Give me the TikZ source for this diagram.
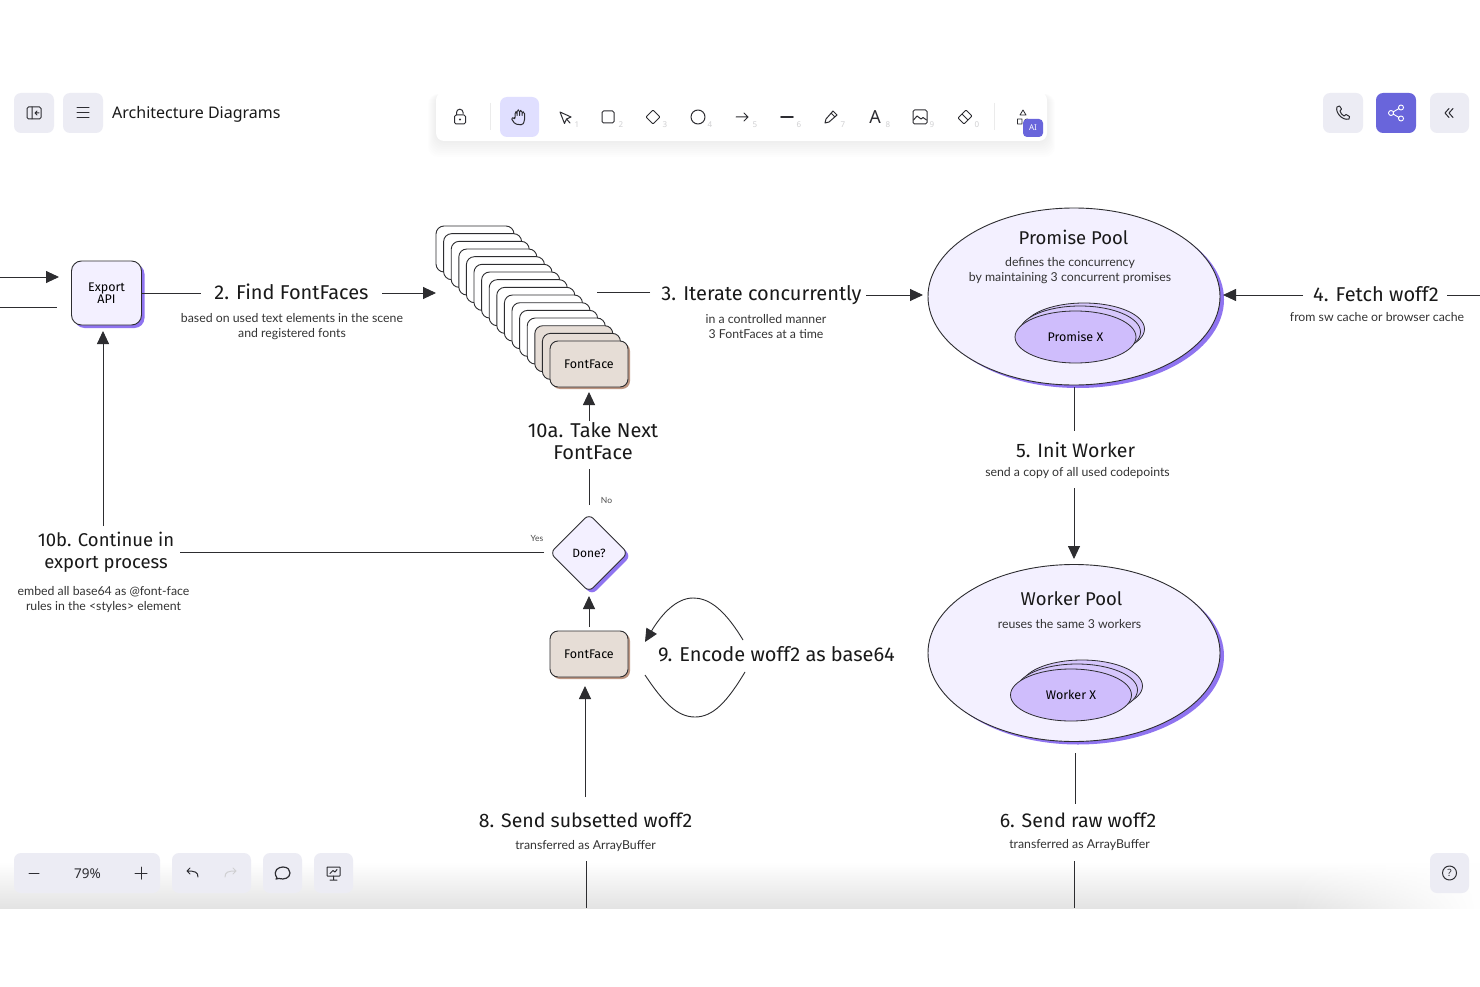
\documentclass[tikz,border=0pt]{standalone}
\usepackage{fontspec}
\setmainfont{Lato}
\newfontfamily\handfont{Fira Sans}
\newfontfamily\uifont{Noto Sans}
\usetikzlibrary{arrows.meta,shapes.geometric,shadows,fadings,positioning}
\definecolor{poolfill}{RGB}{243,240,255}
\definecolor{poolshadow}{RGB}{143,116,240}
\definecolor{innerfill}{RGB}{207,189,252}
\definecolor{facefill}{RGB}{230,221,214}
\definecolor{faceshadow}{RGB}{190,150,130}
\definecolor{inkline}{RGB}{45,45,48}
\definecolor{uibutton}{RGB}{236,236,244}
\definecolor{uiactive}{RGB}{224,223,255}
\definecolor{uiviolet}{RGB}{105,101,219}
\definecolor{uigrey}{RGB}{208,208,210}
\definecolor{uiink}{RGB}{45,45,50}

\begin{document}
\begin{tikzpicture}[x=1pt, y=-1pt,
                      handlabel/.style = {
                        font=\handfont\fontsize{20}{22}\selectfont,
                        align=center, text=black!90, inner sep=0pt
                      },
                      handstep/.style = {
                        handlabel,
                        font=\handfont\fontsize{19.5}{22}\selectfont
                      },
                      handtitle/.style = {
                        handlabel,
                        font=\handfont\fontsize{18.5}{22.5}\selectfont
                      },
                      subnote/.style = {
                        font=\fontsize{12.3}{15.4}\selectfont,
                        align=center, text=black!80, inner sep=0pt
                      },
                      tinynote/.style = {
                        font=\fontsize{8.5}{10}\selectfont,
                        text=black!70, inner sep=0pt
                      },
                      exportbox/.style = {
                        draw=inkline, fill=poolfill, line width=0.9pt,
                        rounded corners=10pt, minimum width=70pt,
                        minimum height=64pt, align=center, inner sep=0pt,
                        font=\handfont\fontsize{12.5}{13}\selectfont,
                        drop shadow={shadow xshift=3pt, shadow yshift=-3pt,
                          opacity=1, fill=poolshadow}
                      },
                      stackcard/.style = {
                        draw=inkline, fill=white, line width=0.9pt,
                        rounded corners=8pt, minimum width=78pt,
                        minimum height=46pt, inner sep=0pt
                      },
                      facecard/.style = {
                        stackcard, fill=facefill,
                        font=\handfont\fontsize{12.5}{14}\selectfont
                      },
                      poolshape/.style = {
                        ellipse, draw=inkline, fill=poolfill, line width=0.9pt,
                        minimum width=292pt, minimum height=177pt, inner sep=0pt,
                        drop shadow={shadow xshift=4pt, shadow yshift=-3pt,
                          opacity=1, fill=poolshadow}
                      },
                      innershape/.style = {
                        ellipse, draw=inkline, fill=innerfill, line width=0.8pt,
                        minimum width=121pt, minimum height=52pt, inner sep=0pt,
                        font=\handfont\fontsize{12.5}{14}\selectfont
                      },
                      doneshape/.style = {
                        diamond, aspect=1, draw=inkline, fill=poolfill,
                        line width=0.9pt, rounded corners=6pt,
                        minimum size=78pt, inner sep=0pt,
                        font=\handfont\fontsize{12}{13}\selectfont,
                        drop shadow={shadow xshift=3pt, shadow yshift=-3pt,
                          opacity=1, fill=poolshadow}
                      },
                      flowline/.style = {
                        draw=inkline, line width=0.9pt
                      },
                      flowarrow/.style = {
                        flowline, -{Triangle[length=13pt, width=12pt]}
                      },
                      uibox/.style = {
                        fill=uibutton, rounded corners=7pt, inner sep=0pt
                      },
                      uiicon/.style = {
                        draw=uiink, line width=1pt, line cap=round,
                        line join=round
                      },
                      uinumber/.style = {
                        font=\uifont\fontsize{8}{9}\selectfont,
                        text=uigrey, inner sep=0pt
                      }]
    \useasboundingbox (0,0) rectangle (1480,987);
    \fill[white] (0,0) rectangle (1480,987);

    % bottom shade of the app window
    \shade[top color=white, bottom color=black!11] (0,862) rectangle (1480,908);
    \fill[white, path fading=west] (1290,855) rectangle (1480,909);

    % diagram: shapes
    \node[exportbox] (export) at (106.5,293) {Export\\[-1pt]API};

    \foreach \i in {0,...,12} {
      \node[stackcard] (card\i) at ({475+7.6*\i},{249+7.67*\i}) {};
    }
    \foreach \i in {13,14} {
      \node[facecard] (card\i) at ({475+7.6*\i},{249+7.67*\i}) {};
    }
    \node[facecard, drop shadow={shadow xshift=2pt, shadow yshift=-2pt,
        opacity=1, fill=faceshadow}] (faceTop) at (589,364) {FontFace};

    \node[poolshape] (promisePool) at (1074,296.5) {};
    \node[innershape, fill=innerfill!85!white] (promiseBackB) at (1084,329) {};
    \node[innershape, fill=innerfill!85!white] (promiseBackA) at (1080,332) {};
    \node[innershape] (promiseX) at (1075.5,337) {Promise X};

    \node[poolshape] (workerPool) at (1074,653) {};
    \node[innershape, fill=innerfill!85!white] (workerBackB) at (1082,686) {};
    \node[innershape, fill=innerfill!85!white] (workerBackA) at (1077,690) {};
    \node[innershape] (workerX) at (1071,695) {Worker X};

    \node[doneshape] (done) at (589,553) {Done?};
    \node[facecard, drop shadow={shadow xshift=2pt, shadow yshift=-2pt,
        opacity=1, fill=faceshadow}] (faceBottom) at (589,654) {FontFace};

    % diagram: texts
    \node[handlabel] (find) at (291.5,292) {2. Find FontFaces};
    \node[subnote] (findNote) at (292,326.5) {based on used text elements in the scene\\and registered fonts};
    \node[handlabel] (iterate) at (761.5,295) {3. Iterate concurrently};
    \node[subnote] (iterateNote) at (766,326.5) {in a controlled manner\\3 FontFaces at a time};
    \node[handlabel] (fetch) at (1376,294) {4. Fetch woff2};
    \node[subnote] (fetchNote) at (1377,317) {from sw cache or browser cache};
    \node[handtitle] (promiseTitle) at (1073.5,237) {Promise Pool};
    \node[subnote] (promiseNote) at (1070,270.5) {defines the concurrency\\by maintaining 3 concurrent promises};
    \node[handstep] (init) at (1075.5,450) {5. Init Worker};
    \node[subnote] (initNote) at (1077.5,473.5) {send a copy of all used codepoints};
    \node[handtitle] (workerTitle) at (1071.5,599) {Worker Pool};
    \node[subnote] (workerNote) at (1069.5,624.5) {reuses the same 3 workers};
    \node[handstep] (rawSend) at (1078,820) {6. Send raw woff2};
    \node[subnote] (rawNote) at (1079.5,845) {transferred as ArrayBuffer};
    \node[handstep] (subSend) at (585.5,820) {8. Send subsetted woff2};
    \node[subnote] (subNote) at (585.5,846) {transferred as ArrayBuffer};
    \node[handlabel] (encode) at (776.5,654) {9. Encode woff2 as base64};
    \node[handlabel] (takeNext) at (593,441.5) {10a. Take Next\\FontFace};
    \node[handtitle] (continue) at (106,552.5) {10b. Continue in\\export process};
    \node[subnote] (continueNote) at (103.5,599.5) {embed all base64 as @font-face\\rules in the <styles> element};
    \node[tinynote] (noLabel) at (606.5,500.5) {No};
    \node[tinynote] (yesLabel) at (537,538) {Yes};

    % diagram: free ends
    \coordinate (inTop) at (0,277);
    \coordinate (inTopEnd) at (59,277);
    \coordinate (inLow) at (0,307);
    \coordinate (inLowEnd) at (57,307);
    \coordinate (fetchEdge) at (1480,295);
    \coordinate (rawEdge) at (1074,908);
    \coordinate (subEdge) at (586,908);
    \coordinate (loopTopA) at (743,640);
    \coordinate (loopTopB) at (645,642);
    \coordinate (loopLowA) at (645,675);
    \coordinate (loopLowB) at (745,672);

    % diagram: connectors
    \draw[flowarrow] (inTop) -- (inTopEnd);
    \draw[flowline] (inLow) -- (inLowEnd);
    \draw[flowline] (export.east) -- ++(59,0);
    \draw[flowarrow] (382,293) -- (436,293);
    \draw[flowline] (650,292) -- (597,292);
    \draw[flowarrow] (866,295) -- (923,295);
    \draw[flowarrow] (1303,295) -- (1223,295);
    \draw[flowline] (1447,295) -- (fetchEdge);
    \draw[flowline] (1074,387) -- (1074,431);
    \draw[flowarrow] (1074,488) -- (1074,559);
    \draw[flowline] (1075,753) -- (1075,804);
    \draw[flowline] (1074,861) -- (rawEdge);
    \draw[flowline] (586,861) -- (subEdge);
    \draw[flowarrow] (585,797) -- (585,686);
    \draw[flowarrow] (589,627) -- (589,596);
    \draw[flowline] (589,505) -- (589,469);
    \draw[flowarrow] (589,421) -- (589,392);
    \draw[flowline] (544,552.5) -- (180,552.5);
    \draw[flowarrow] (103,526) -- (103,331);
    \draw[flowarrow] (loopTopA) .. controls (722,605) and (706,598) .. (693,598)
       .. controls (676,598) and (661,615) .. (loopTopB);
    \draw[flowline] (loopLowA) .. controls (663,702) and (677,717) .. (695,717)
       .. controls (713,717) and (727,702) .. (loopLowB);

    % top bar, left
    \node[uibox, minimum width=40pt, minimum height=40pt] (panelBtn) at (34,113) {};
    \node[uibox, minimum width=40pt, minimum height=40pt] (menuBtn) at (83,113) {};
    \draw[uiicon, rounded corners=1.5pt] (27,107) rectangle (41,119);
    \draw[uiicon] (32,107) -- (32,119) (39,113) -- (35,113) (37,111) -- (35,113) -- (37,115);
    \draw[uiicon] (77,108) -- (89,108) (77,113) -- (89,113) (77,118) -- (89,118);
    \node[font=\uifont\fontsize{16}{20}\selectfont, text=black!90, anchor=west, inner sep=0pt]
      (title) at (112,114) {Architecture Diagrams};

    % toolbar
    \foreach \g in {1,...,8} {
      \fill[black, opacity=0.006, rounded corners=10pt]
        ({436-\g},{92+2}) rectangle ({1047+\g},{141+2*\g});
    }
    \node[fill=white, rounded corners=8pt, minimum width=611pt, minimum height=49pt]
      (toolbar) at (741.5,116.5) {};
    \node[fill=uiactive, rounded corners=7pt, minimum width=39pt, minimum height=40pt]
      (handBtn) at (519.5,117) {};
    \draw[black!8] (490,103) -- (490,130) (994,103) -- (994,130);
    % lock
    \draw[uiicon, rounded corners=1.5pt] (454.5,115) rectangle (465.5,124);
    \draw[uiicon] (456.5,115) -- (456.5,112.5) arc (180:360:3.3) -- (463.1,113.5);
    \fill[uiink] (460,119.5) circle (1.1);
    % hand
    \draw[uiicon, rounded corners=1.5pt] (515,124) -- (511,118) -- (514,117.5) -- (515,119)
      -- (515,112) -- (517,112) -- (517,117) -- (517,110) -- (519.5,110) -- (519.5,117)
      -- (519.5,110.5) -- (522,110.5) -- (522,117) -- (522,112) -- (524.5,112) -- (524.5,121)
      -- (522.5,125) -- cycle;
    % cursor
    \draw[uiicon] (560,112) -- (571,117) -- (566.5,119) -- (564.5,123.5) -- cycle
      (566.5,119) -- (570,123);
    % rectangle, diamond, circle, arrow, line, pencil
    \draw[uiicon, rounded corners=1.5pt] (602,111) rectangle (614,123);
    \draw[uiicon, rounded corners=1pt] (653,110) -- (660,117) -- (653,124) -- (646,117) -- cycle;
    \draw[uiicon] (698,117) circle (7);
    \draw[uiicon] (736,117) -- (748,117) (744,113) -- (748,117) -- (744,121);
    \draw[uiicon, line width=1.6pt] (781,117) -- (793,117);
    \draw[uiicon] (825,123) -- (826,119) -- (833,111) -- (837,115) -- (829,122) -- cycle (831,113) -- (835,117);
    \node[font=\uifont\bfseries\fontsize{18}{20}\selectfont, text=uiink, inner sep=0pt] (fontIcon) at (875,117) {A};
    % image
    \draw[uiicon, rounded corners=1.5pt] (913,110) rectangle (927,124);
    \draw[uiicon] (913.5,120) -- (917,116) -- (921,119) -- (923,117.5) -- (926.5,120);
    % eraser
    \draw[uiicon, rounded corners=1pt] (958,118) -- (966,110) -- (972,116) -- (964,124) -- cycle (962,114) -- (968,120);
    % shapes
    \draw[uiicon, line width=0.8pt] (1023,110) -- (1026,115) -- (1020,115) -- cycle
      (1017.5,119) rectangle (1022,124) (1027,121.5) circle (2.5);
    \node[fill=uiviolet, rounded corners=4pt, minimum width=20pt, minimum height=18pt,
      inner sep=0pt, text=white, font=\uifont\fontsize{8}{9}\selectfont] (aiBadge) at (1033,128) {AI};
    \foreach \x/\n in {577/1,621/2,665/3,710/4,755/5,799/6,843/7,888/8,932/9,977/0} {
      \node[uinumber] (key\n) at (\x,125) {\n};
    }

    % top bar, right
    \node[uibox, minimum width=40pt, minimum height=40pt] (callBtn) at (1343,113) {};
    \node[uibox, fill=uiviolet, minimum width=40pt, minimum height=40pt] (shareBtn) at (1396,113) {};
    \node[uibox, minimum width=39pt, minimum height=40pt] (collapseBtn) at (1449.5,113) {};
    \draw[uiicon] (1337,107) .. controls (1335,112) and (1342,121) .. (1349,119)
      -- (1349.5,116.5) -- (1346,114.5) -- (1344,116) .. controls (1342,115) and (1340.5,113) .. (1340,111)
      -- (1341.5,109) -- (1339.5,106) -- cycle;
    \draw[white, line width=0.9pt] (1391,113) circle (2.5) (1401,107.5) circle (2.5) (1401,118.5) circle (2.5)
      (1393,112) -- (1399,108.5) (1393,114) -- (1399,117.5);
    \draw[uiicon] (1449,108.5) -- (1445,113) -- (1449,117.5) (1453,108.5) -- (1449,113) -- (1453,117.5);

    % bottom bar
    \node[uibox, minimum width=146pt, minimum height=40pt] (zoomBtn) at (87,873) {};
    \node[uibox, minimum width=79pt, minimum height=40pt] (undoBtn) at (211.5,873) {};
    \node[uibox, minimum width=39pt, minimum height=40pt] (commentBtn) at (282.5,873) {};
    \node[uibox, minimum width=39pt, minimum height=40pt] (slidesBtn) at (333.5,873) {};
    \node[uibox, minimum width=39pt, minimum height=40pt] (helpBtn) at (1449.5,873) {};
    \draw[uiicon] (29,873) -- (39,873) (135,873) -- (147,873) (141,867) -- (141,879);
    \node[font=\uifont\fontsize{13.5}{16}\selectfont, text=uiink, inner sep=0pt] (zoomValue) at (87.5,874) {79\%};
    \draw[uiicon] (198,877) .. controls (198,872) and (195,871) .. (187,871) (190,868) -- (187,871) -- (190,874);
    \draw[uiicon, draw=uigrey] (225,877) .. controls (225,872) and (228,871) .. (236,871) (233,868) -- (236,871) -- (233,874);
    \draw[uiicon, line width=1.2pt] (277,878) .. controls (272,870) and (279,867) .. (283,867)
      .. controls (288,867) and (290,870) .. (290,873) .. controls (290,878) and (284,880) .. (279,878.5) -- (276,879) -- cycle;
    \draw[uiicon, rounded corners=0.5pt] (327,867) rectangle (340,876);
    \draw[uiicon] (333.5,876) -- (333.5,880) (330,880) -- (337,880) (330,873.5) -- (333,870.5) -- (335,872) -- (337,869.5);
    \draw[uiicon] (1449.5,873) circle (7);
    \node[font=\uifont\fontsize{10}{11}\selectfont, text=uiink, inner sep=0pt] (helpMark) at (1449.5,873) {?};
  \end{tikzpicture}
\end{document}
